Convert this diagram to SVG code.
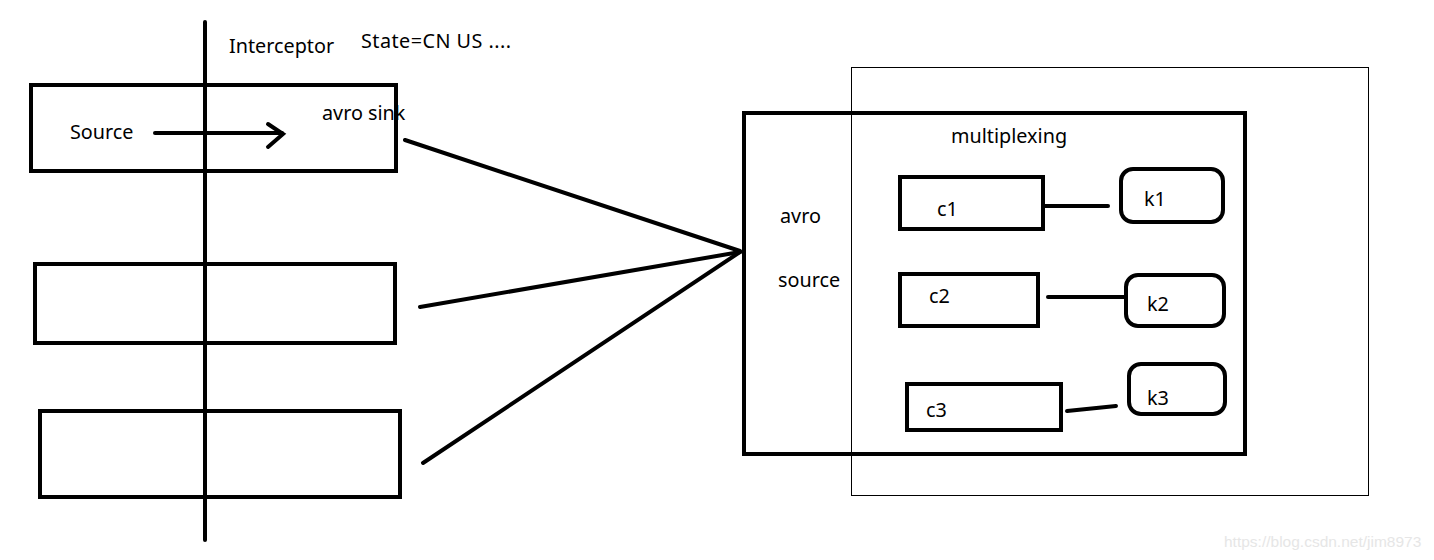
<svg xmlns="http://www.w3.org/2000/svg" width="1434" height="560" viewBox="0 0 1434 560">
<style>
.b{fill:none;stroke:#000;stroke-width:4}
.t{fill:none;stroke:#000;stroke-width:1}
.l{stroke:#000;stroke-width:4;stroke-linecap:round;fill:none}
text{font-family:"Noto Sans","Open Sans",sans-serif;font-size:19.8px;fill:#000}
.w{font-family:"Liberation Sans",Arial,sans-serif;font-size:15.5px;fill:#e6e6e6}
</style>
<rect width="1434" height="560" fill="#fff"/>
<g id="outer-box"><rect class="t" x="851.5" y="67.5" width="517" height="428"/></g>
<g id="source1"><rect class="b" x="31" y="85" width="365" height="86"/><text x="70" y="139">Source</text><text x="322" y="120">avro sink</text></g>
<g id="source2"><rect class="b" x="35" y="264" width="360" height="79"/></g>
<g id="source3"><rect class="b" x="40" y="411" width="360" height="86"/></g>
<g id="interceptor"><line class="l" x1="205" y1="22" x2="205" y2="540"/><text x="229" y="53">Interceptor</text><text x="361" y="48" textLength="150">State=CN US ....</text></g>
<g id="avro-source"><rect class="b" x="744" y="113" width="501" height="341"/><text x="780" y="223">avro</text><text x="778" y="287">source</text><text x="951" y="143">multiplexing</text></g>
<g id="c1"><rect class="b" x="900" y="177" width="143" height="52"/><text x="937" y="216">c1</text></g>
<g id="c2"><rect class="b" x="900" y="274" width="138" height="52"/><text x="929" y="303">c2</text></g>
<g id="c3"><rect class="b" x="907" y="384" width="154" height="46"/><text x="926" y="417">c3</text></g>
<g id="k1"><rect class="b" x="1121" y="169" width="102" height="53" rx="12"/><text x="1144" y="206">k1</text></g>
<g id="k2"><rect class="b" x="1126" y="275" width="98" height="51" rx="12"/><text x="1147" y="311">k2</text></g>
<g id="k3"><rect class="b" x="1129" y="364" width="96" height="50" rx="12"/><text x="1147" y="405">k3</text></g>
<g id="connectors">
<line class="l" x1="155" y1="133" x2="282" y2="133"/>
<polyline class="l" points="268,124 283,134 268,147"/>
<line class="l" x1="405" y1="140" x2="740" y2="251"/>
<line class="l" x1="420" y1="307" x2="740" y2="252"/>
<line class="l" x1="423" y1="463" x2="740" y2="252"/>
<line class="l" x1="1045" y1="206" x2="1108" y2="206"/>
<line class="l" x1="1048" y1="297" x2="1126" y2="297"/>
<line class="l" x1="1067" y1="411" x2="1116" y2="406"/>
</g>
<text class="w" x="1224" y="547">https://blog.csdn.net/jim8973</text>
</svg>
